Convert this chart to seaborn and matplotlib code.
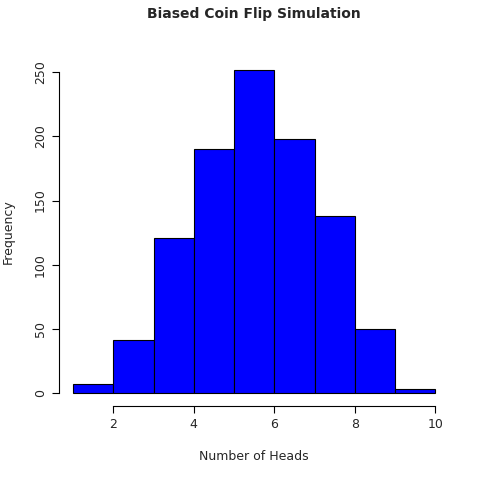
import numpy as np
import pandas as pd
import seaborn as sns
import matplotlib.pyplot as plt

# Histogram counts (bins of width 1 from 1 to 10)
bin_edges = [1, 2, 3, 4, 5, 6, 7, 8, 9, 10]
counts = [7, 41, 121, 190, 252, 198, 138, 50, 3]

df = pd.DataFrame({"heads": [e + 0.5 for e in bin_edges[:-1]], "count": counts})

sns.set_style("white")
fig = plt.figure(figsize=(4.8, 4.8), dpi=100)
ax = fig.add_axes([0.122, 0.154, 0.815, 0.728])

sns.histplot(data=df, x="heads", weights="count", bins=bin_edges,
             color="blue", edgecolor="black", linewidth=0.8, alpha=1, ax=ax)

ax.set_xlim(0.64, 10.36)
ax.set_ylim(-10.08, 262.08)
ax.set_xticks([2, 4, 6, 8, 10])
ax.set_yticks([0, 50, 100, 150, 200, 250])
ax.spines["top"].set_visible(False)
ax.spines["right"].set_visible(False)
ax.spines["left"].set_position(("outward", 0))
ax.spines["left"].set_bounds(0, 250)
ax.spines["bottom"].set_bounds(2, 10)
for s in ("left", "bottom"):
    ax.spines[s].set_color("black")
    ax.spines[s].set_linewidth(0.8)
ax.tick_params(axis="both", direction="out", length=5, width=0.8,
               labelsize=9, color="black", bottom=True, left=True)
plt.setp(ax.get_yticklabels(), rotation=90, va="center")

ax.set_xlabel("Number of Heads", fontsize=9, labelpad=14)
ax.set_ylabel("Frequency", fontsize=9, labelpad=14)
ax.set_title("Biased Coin Flip Simulation", fontsize=10, fontweight="bold", pad=28)

fig.savefig("out.png", dpi=100)
